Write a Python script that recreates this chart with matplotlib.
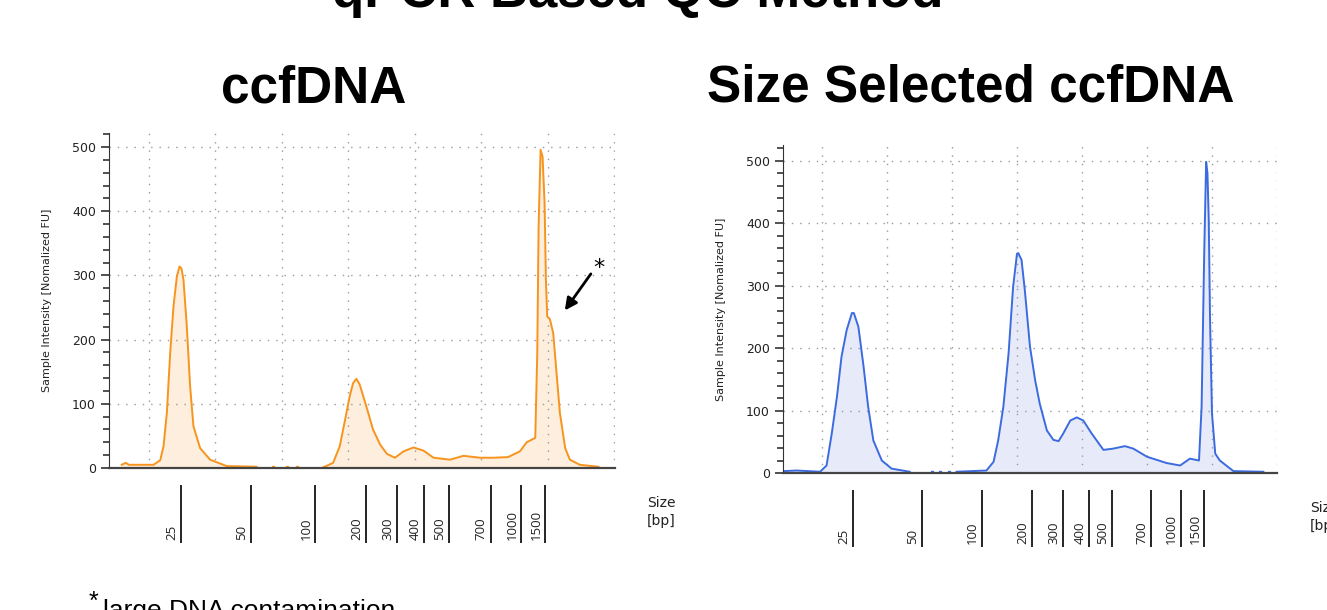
import matplotlib.pyplot as plt
import numpy as np

# electropherogram traces: x in migration units (1 unit = one grid column), y in FU
raw_x = [0.19, 0.25, 0.30, 0.67, 0.77, 0.82, 0.87, 0.92, 0.97, 1.02, 1.06, 1.09, 1.12, 1.17,
         1.22, 1.27, 1.37, 1.52, 1.77, 2.22]
raw_y = [5, 8, 5, 5, 12, 34, 86, 179, 252, 298, 314, 311, 293, 221, 127, 65, 31, 13, 3, 2]
raw_x2 = [3.22, 3.37, 3.47, 3.55, 3.62, 3.67, 3.72, 3.77, 3.87, 3.97, 4.08, 4.18, 4.30, 4.43,
          4.58, 4.73, 4.88, 5.13, 5.33, 5.58, 5.78, 6.00, 6.18, 6.28, 6.41, 6.44, 6.46, 6.49,
          6.52, 6.55, 6.57, 6.59, 6.63, 6.68, 6.73, 6.78, 6.86, 6.93, 7.08, 7.36]
raw_y2 = [1, 8, 34, 75, 112, 132, 139, 130, 96, 60, 36, 22, 16, 26, 32, 27, 16, 13, 19, 16,
          16, 17, 26, 40, 47, 179, 376, 496, 485, 413, 293, 236, 232, 210, 148, 86, 31, 13, 5, 2]
raw_dots = [2.47, 2.67, 2.82]

sel_x = [0.005, 0.21, 0.57, 0.67, 0.75, 0.83, 0.90, 0.98, 1.06, 1.09, 1.16, 1.24, 1.31, 1.39,
         1.52, 1.67, 1.95]
sel_y = [3, 4, 2, 12, 63, 122, 186, 229, 256, 256, 234, 170, 106, 52, 20, 7, 2]
sel_x2 = [2.67, 3.13, 3.24, 3.31, 3.39, 3.47, 3.54, 3.60, 3.62, 3.67, 3.72, 3.80, 3.88, 3.95,
          4.06, 4.16, 4.24, 4.31, 4.42, 4.52, 4.62, 4.75, 4.93, 5.08, 5.26, 5.39, 5.60, 5.90,
          6.11, 6.26, 6.40, 6.44, 6.48, 6.51, 6.53, 6.55, 6.57, 6.60, 6.65, 6.72, 6.93, 7.39]
sel_y2 = [2, 4, 18, 52, 106, 191, 298, 351, 352, 341, 293, 202, 148, 111, 68, 53, 51, 63, 84,
          89, 84, 63, 37, 39, 43, 39, 26, 16, 12, 23, 20, 106, 351, 498, 480, 405, 245, 95, 31,
          20, 3, 2]
sel_dots = [2.30, 2.42, 2.55]

# ladder sizes and where they run on each chip
ladder_bp = ["25", "50", "100", "200", "300", "400", "500", "700", "1000", "1500"]
raw_ladder_x = [1.08, 2.14, 3.10, 3.86, 4.33, 4.74, 5.11, 5.74, 6.20, 6.56]
sel_ladder_x = [1.08, 2.14, 3.06, 3.83, 4.31, 4.71, 5.06, 5.66, 6.12, 6.48]

W, H = 1327, 610
fig = plt.figure(figsize=(W / 100, H / 100), dpi=100)


def box(x0, y0, x1, y1):
    # pixel box -> figure fraction
    return [x0 / W, 1 - y1 / H, (x1 - x0) / W, (y1 - y0) / H]


def panel(rect, ymax, xmax, segs, dots, line_c, fill_c):
    ax = fig.add_axes(rect)
    ax.set_xlim(0, xmax)
    ax.set_ylim(0, ymax)
    for xs, ys in segs:
        ax.fill_between(xs, ys, 0, color=fill_c, lw=0)
        ax.plot(xs, ys, color=line_c, lw=1.4)
    ax.plot(dots, [1] * len(dots), ls="none", marker="s", ms=1.6, color=line_c)
    for s in ["top", "right"]:
        ax.spines[s].set_visible(False)
    ax.spines["left"].set_color("#333333")
    ax.spines["bottom"].set_color("#444444")
    ax.spines["bottom"].set_linewidth(1.6)
    ax.set_yticks(range(0, 501, 100))
    ax.set_yticks(range(0, 521, 20), minor=True)
    ax.tick_params(axis="y", which="major", length=6, width=1.2, color="#333333",
                   labelsize=9, labelcolor="#222222")
    ax.tick_params(axis="y", which="minor", length=4, width=1.2, color="#333333")
    ax.set_xticks(np.arange(0.6, xmax + 0.01, 1.0))
    ax.tick_params(axis="x", length=0, labelbottom=False)
    ax.grid(True, which="major", color="#999999", ls=(0, (1, 5)), lw=1)
    ax.set_ylabel("Sample Intensity [Nomalized FU]", fontsize=8, color="#222222", labelpad=14)
    return ax


def ladder(rect, xmax, xs):
    lx = fig.add_axes(rect)
    lx.set_xlim(0, xmax)
    lx.set_ylim(0, 1)
    lx.axis("off")
    lx.vlines(xs, 0, 1, color="black", lw=1.2)
    for x, lab in zip(xs, ladder_bp):
        lx.annotate(lab, (x, 0.05), xytext=(-2, 0), textcoords="offset points",
                    rotation=90, ha="right", va="bottom", fontsize=9.5,
                    family="Open Sans", color="#222222")
    return lx


xmax_l = 506 / 66.5
ax1 = panel(box(109, 133, 615, 468), 522, xmax_l,
            [(raw_x, raw_y), (raw_x2, raw_y2)], raw_dots, "#f7941d", "#fdeedd")
ladder(box(109, 485, 615, 543), xmax_l, raw_ladder_x)

xmax_r = 494 / 65
ax2 = panel(box(783, 145, 1277, 473), 525, xmax_r,
            [(sel_x, sel_y), (sel_x2, sel_y2)], sel_dots, "#3c6be0", "#e7eaf8")
ladder(box(783, 490, 1277, 547), xmax_r, sel_ladder_x)

# contamination marker next to the high-molecular-weight shoulder
ax1.annotate("", xy=(6.83, 242), xytext=(7.27, 306),
             arrowprops=dict(arrowstyle="-|>", color="black", lw=2, mutation_scale=18))
ax1.text(7.28, 312, "*", fontsize=16, ha="left", va="center")

fig.text(647 / W, 1 - 512 / H, "Size\n[bp]", fontsize=10, va="center", ha="left",
         color="#222222", linespacing=1.3)
fig.text(1310 / W, 1 - 517 / H, "Size\n[bp]", fontsize=10, va="center", ha="left",
         color="#222222", linespacing=1.3)

fig.text(314 / W, 1 - 89 / H, "ccfDNA", fontsize=37, weight="bold",
         family="Liberation Sans", ha="center", va="center")
fig.text(971 / W, 1 - 88 / H, "Size Selected ccfDNA", fontsize=37, weight="bold",
         family="Liberation Sans", ha="center", va="center")
fig.text(638 / W, 1 - 7 / H, "qPCR Based QC Method", fontsize=38, weight="bold",
         family="Liberation Sans", ha="center", va="baseline")

fig.text(89 / W, 1 - 609 / H, "*", fontsize=18, family="Liberation Sans", va="baseline")
fig.text(103 / W, 1 - 618 / H, "large DNA contamination", fontsize=19,
         family="Liberation Sans", va="baseline")

fig.savefig("out.png", dpi=100)
